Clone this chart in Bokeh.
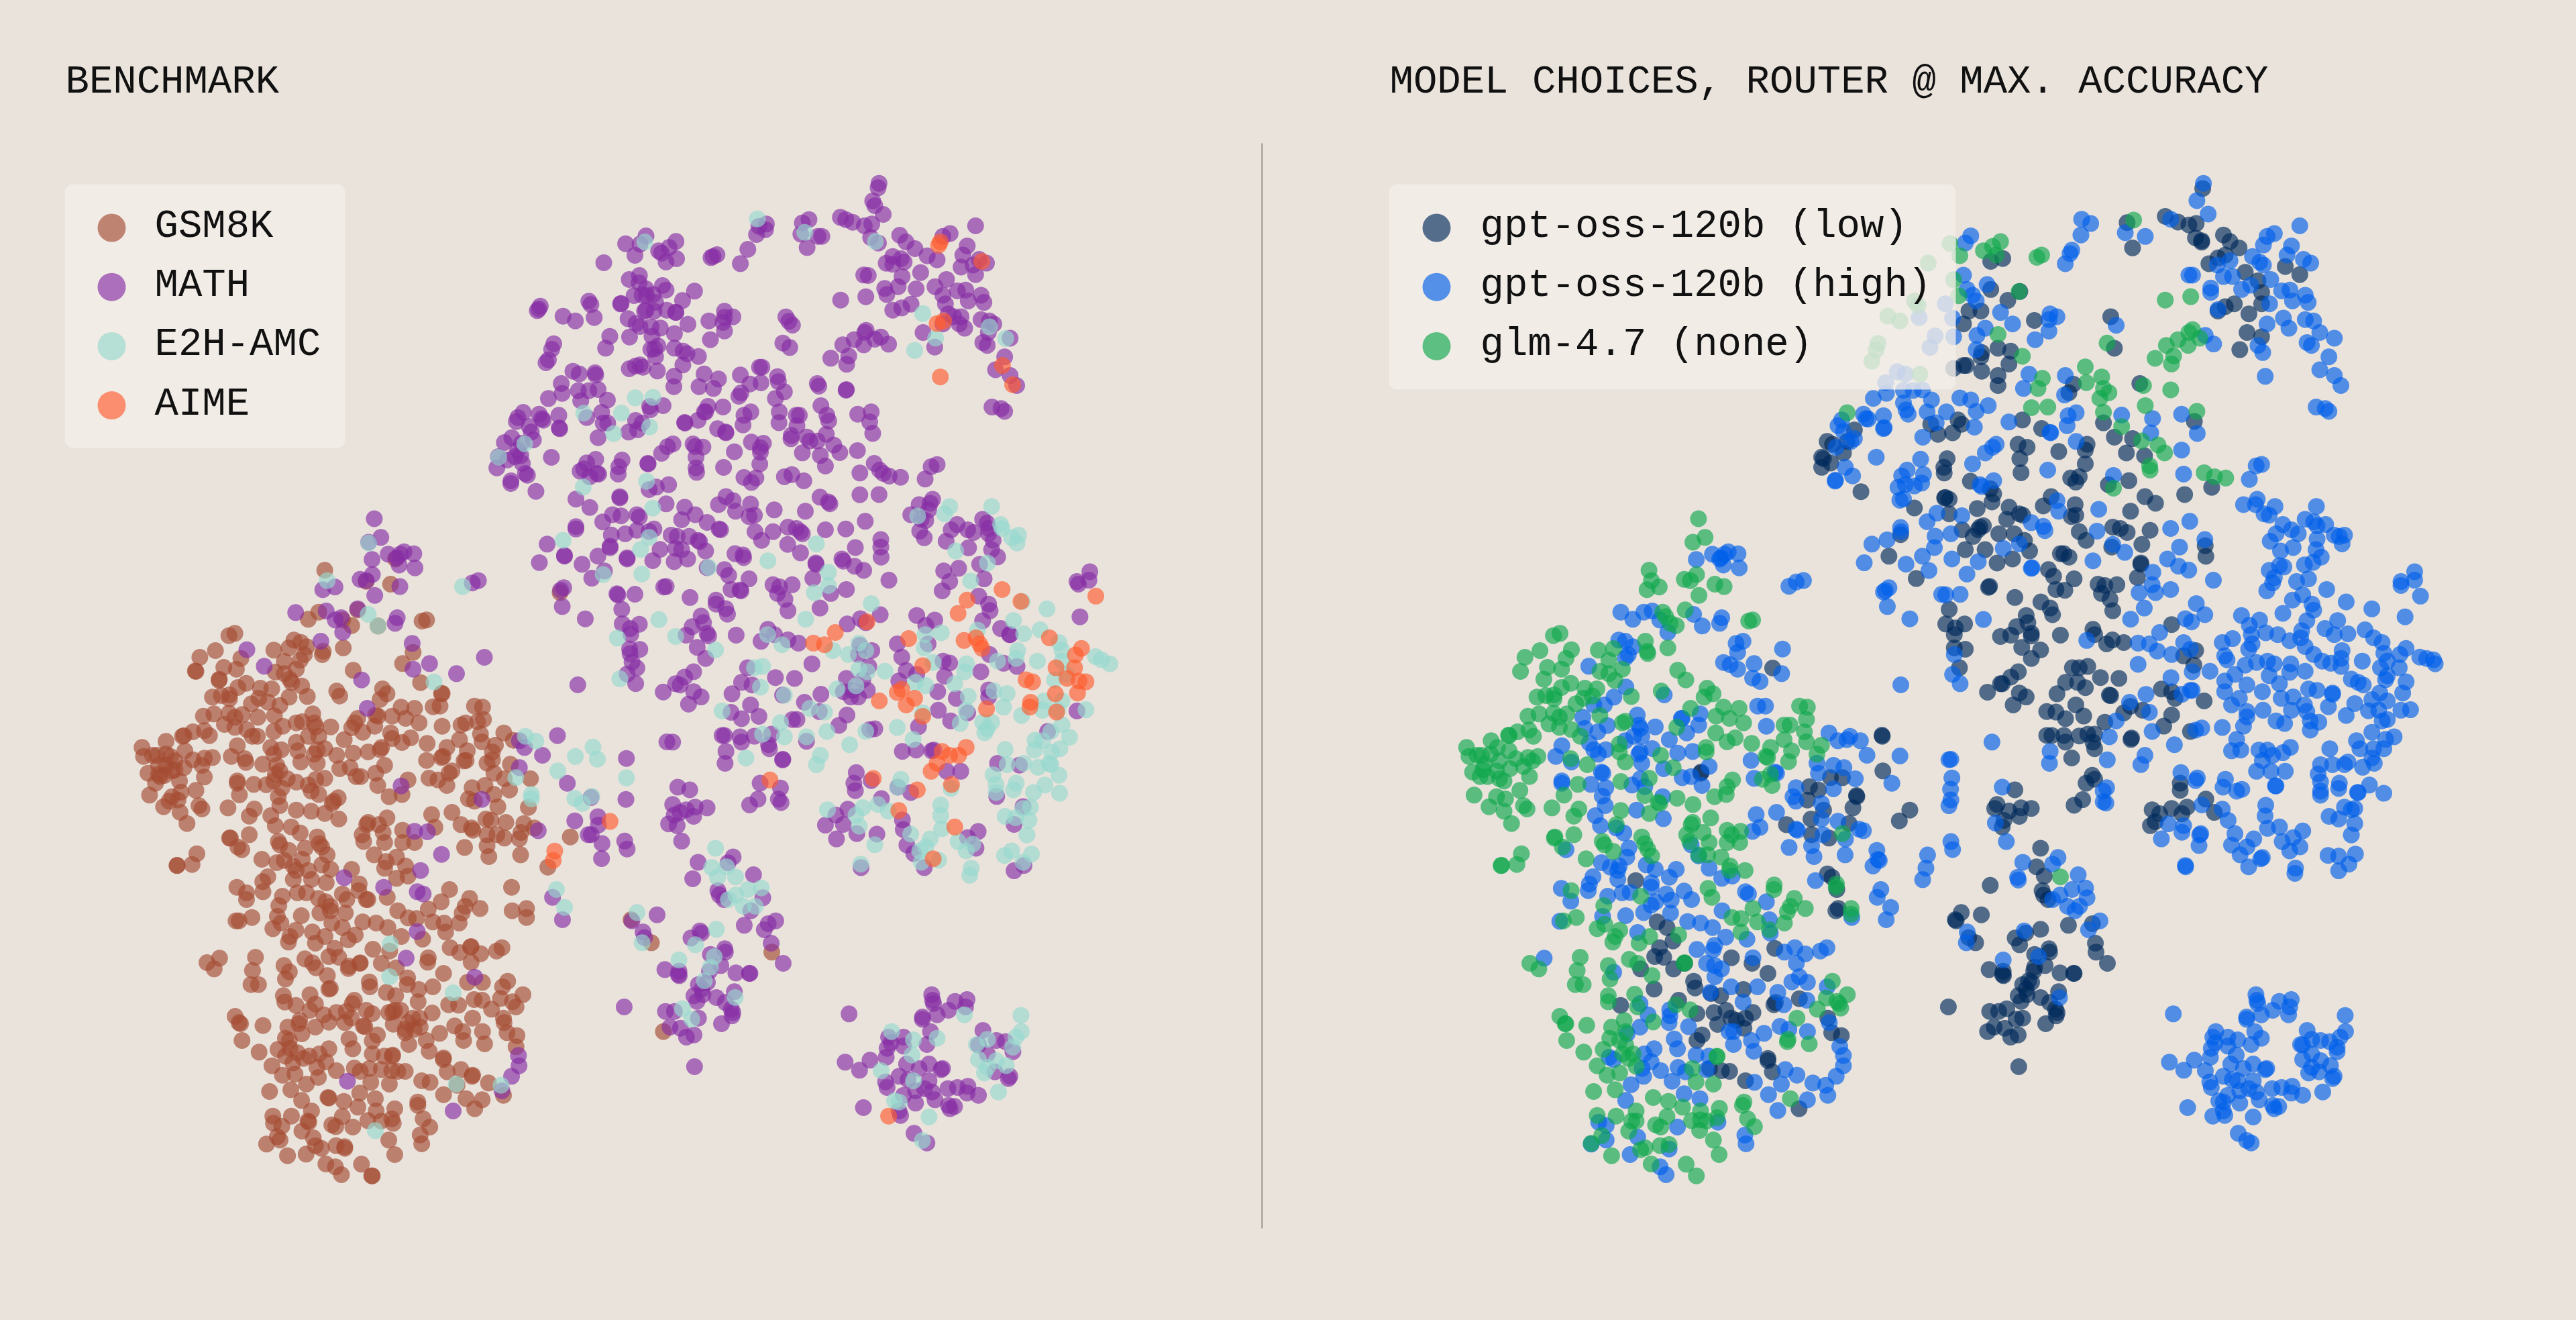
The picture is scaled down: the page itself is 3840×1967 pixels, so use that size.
from bokeh.plotting import figure
from bokeh.models import Range1d, Label, BoxAnnotation, ColumnDataSource
from bokeh.embed import file_html
from bokeh.resources import INLINE

BG = "#E9E3DC"
TITLE_LEFT = "BENCHMARK"
TITLE_RIGHT = "MODEL CHOICES, ROUTER @ MAX. ACCURACY"
BENCH_NAMES = ["GSM8K", "MATH", "E2H-AMC", "AIME"]
BENCH_COLORS = ["#A54B33", "#852CA5", "#97D8CE", "#FF5C2E"]
MODEL_NAMES = ["gpt-oss-120b (low)", "gpt-oss-120b (high)", "glm-4.7 (none)"]
MODEL_COLORS = ["#00295B", "#005FEA", "#10A84D"]
ALPHA = 0.65

# ---- readings of the left panel, grouped by the part of the picture they were read from
w2_math = [(1366,128),(1363,148),(1345,207),(1352,228),(1380,267),(1237,280),(1255,290),(1278,302),(1317,318),(1342,310),(1338,370),(1364,395),(1435,360),(1456,390),(1486,420),(1527,452),(1390,485),(1412,490),(1440,465),(1450,480),(1412,455),(1505,527),(1330,540),(1315,538),(1443,545),(1430,590),(1490,600),(1385,598),(1392,625),(1322,635),(1412,695),(1442,685),(1473,668),(1560,470),(1553,590),
(1132,290),(1110,305),(1105,355),(1126,415),(1162,365),(1175,365),(990,310),(965,320),(987,335),(957,357),(928,423),(903,487),(825,447),(805,460),(812,455),
(588,363),(568,400),(520,398),(551,450),(630,430),(640,440),(665,415),(688,388),(690,465),(655,480),(447,483),
(532,558),(566,540),(565,573),(588,600),(643,585),(655,605),(750,610),(548,630),(575,628),(590,630),(612,625),(505,665),(503,667),(710,652),(620,660),(588,695),(583,700),(615,700),(657,695),(687,705),(688,705),(528,733),(555,755),(568,768),(605,770),(636,775),(728,758),(683,800),(467,812),(533,815),(608,812),(628,855),(604,870),(617,868),(683,865),(620,903),(712,878),(725,890),(763,902),(711,940),
(235,677),(225,697),(230,690),(311,722),(352,743),(415,728),(397,655),(404,670),(280,845),(273,870),(262,917),(254,930),(453,865),
(532,957),(553,945),(568,940),(578,950),(626,967),(682,990),(681,1037),(782,980),(765,1037),(830,1003),(813,1045),(783,1150),(850,700),(850,727),(845,750),(798,743),(878,725),(850,788),(803,827),
(1055,725),(1065,745),(1077,762),(1045,842),(1068,862),
(344,968),(365,980),(418,975),(420,985),(305,1023),(308,1067),(262,1090),(362,1055),(397,1055),(428,1050),(459,1097),(370,1100),(390,1175),(440,1152),(460,1200),(445,1200),(553,1188),(575,1200),(530,1240),(560,1230),(428,1265),(603,1140),(645,1122),(600,1125),
(178,1152),(160,1175),(155,1193),(231,1160),(240,1180),(245,1187),(297,1165),(298,1222),(300,1225),(198,1215),(205,1240),(212,1275),(140,1265),(115,1287),(172,1290),(160,1320),(170,1345),(95,1350),(90,1400),(125,1365),(150,1350),(175,1380),(137,1458),(192,1433),(185,1425),(272,1353),
(420,1362),(390,1378),(368,1415),(380,1405),(430,1428),(425,1425),(400,1440),(508,1365),(497,1395),(495,1428),(595,1382),(594,1380),
(847,1398),(883,1328),(940,1285),(970,1310),(980,1290),(970,1330),(968,1383),(915,1443),(955,1445),(940,1465),
(903,985),(975,950),(967,950),(935,1025),(972,1020),(1027,992),(1030,1015),(1050,1060),(1020,1090),(905,1065),(898,1080),(1160,1023),(1165,1035),(1257,1050),(1256,1053),
(1033,1150),(1032,1198),(938,1150),(915,1165),(912,1208),(845,1128),(795,1125),(787,1150),(762,1187),(717,1197),(718,1200),
(1090,1165),(1100,1165),(1092,1212),(1072,1270),(1073,1255),(1172,1122),(1192,1165),(1198,1190),(1190,1250),(1125,1262),(1160,1280),(1135,1280),(1215,1298),(1235,1332),(1110,1333),(1170,1345),(1187,1392),(1295,1160),(1340,1150),(1335,1195),(1345,1246),(1294,1323),
(827,1225),(855,1243),(854,1240),(678,1293),(660,1305),(640,1335),(745,1293),(752,1305),(778,1307),(755,1352),(755,1400),(757,1420),
(1350,1380),(1368,1410),(1380,1425),(1400,1437),(1438,1442),(1302,1423),(1520,1450),(1540,1395),(1560,1385),(1075,1430),(1050,1440),(1115,1458),
(1205,910),(1245,850),(1265,900),(1258,937),(1283,827),(1315,850),(1323,785),(1318,795),(1352,825),(1372,815),(1398,847),(1238,650),(1513,795),(1552,860)]
w2_teal = [(960,287),(1118,347),(1354,388),(584,390),(552,1087),(611,1085),(506,1155),(380,1155),(600,1217),(480,1247),(183,1293),(96,1352),(590,1460),(1512,710),(1485,875),(1555,820)]
w2_orange = [(1565,405),(1560,755),(1568,990)]

tr_math = [(1435,248),(1365,275),(1345,285),(1412,318),(1400,350),(1445,365),(1465,378),(1428,385),(1395,392),(1435,418),(1355,435),(1345,490),(1385,475),(1408,472),(1415,510),(1450,490),(1458,515),(1395,565),(1375,565),(1360,555),(1345,590),(1390,590),(1405,605),(1450,575),(1473,580),(1485,590),(1470,620),(1455,655),(1467,665),(1530,640),(1515,705),(1490,750),(1530,770),(1548,805),(1480,880),(1505,885),(1515,895),(1352,520)]
tr_teal = [(1518,641),(1473,600)]
tr_orange = [(1338,304),(1452,372),(1347,580),(1338,775),(1537,802),(1509,735)]

w3_math = [(45,140),(80,168),(35,187),(120,197),(158,130),(183,100),(207,115),(215,155),(265,128),(278,170),(260,175),(344,150),(448,155),(160,222),(165,225),(280,232),(340,232),(302,265),(390,215),(418,220),(432,232),(438,240),(389,280),(432,312),(515,225),(583,222),(648,193),(497,102),(525,120),(530,127),(630,93),(694,92),(615,292),(700,262),(700,290),(701,328),(570,335),(575,343),(612,362),(643,378),(483,350),(484,355),(473,408),(585,450),(533,465),(497,520),(727,415),
(0,245),(20,250),(60,250),(15,295),(35,300),(90,265),(95,270),(115,305),(55,335),(10,345),(213,315),(240,320),(242,330),(120,368),(178,375),(192,397),(260,410),(200,450),(230,452),(233,455),(340,432),(362,440),(404,432),(355,465),(380,487),(390,530),(63,480),(150,490),(150,505),(182,522),(188,543),(100,550),(108,575),(70,590),(50,622),(120,615),(125,625),(87,668),(115,710),(45,780),(75,760),(15,805),(30,810),(75,835),(100,855),(58,882),(217,622),(300,645),(323,600),(345,620),(390,640),(425,652),(470,730),
(255,745),(235,800),(270,810),(348,782),(412,785),(203,843),(372,848),(265,885),(200,913),(235,937),(293,928),(445,875),(500,845),(495,910),(587,923),(560,962),(405,940),(420,940),
(178,1000),(170,1000),(230,1005),(235,1025),(278,1003),(335,995),(325,1035),(328,1050),(183,1060),(180,1105),(373,1090),(372,1092),(452,1022),(5,1025),
(588,580),(632,560),(698,545),(650,575),(680,975),(663,978),(585,785),(605,830),(640,790),(655,830),(600,855),(625,855),(575,835),(630,660),(670,680),(625,695),(660,740),
(755,655),(770,705),(785,755),(760,795),(820,770),(826,967),(772,1060),(818,1055),(877,1055),(820,548),(880,565),(850,585),(858,655),
(908,720),(930,727),(913,777),(890,835),(892,905),(952,860),(933,945),(990,915),(1034,760),(1063,695),(1110,728),(1155,740),(1130,620),(1100,597),(1040,568),(1060,505),(1065,530),(1027,475),(1045,410),
(828,130),(865,125),(873,110),(860,150),(800,168),(835,185),(830,230),(845,255),(850,190),(935,225),(955,205),(990,225),(1010,235),(1040,185),(1060,220),(1055,200),(1060,240),(1075,265),(918,268),(993,293),(1070,300),(1090,327),(910,380),(960,370),(930,420),(905,455),(1030,355),
(1355,420),(1360,430),(1398,383),(1395,415),(1365,553),(1355,908),(1132,620),(1060,828),(1060,855),(1257,985),(1087,1230),(1090,1105),(1163,1112),(1145,1335),(1175,1268),
(618,1140),(610,1180),(615,1208),(668,1170),(702,1238),(757,1195),(800,1215),(920,1135),(967,1135),(870,1058),
(590,1278),(550,1300),(515,1338),(575,1335),(620,1370),(552,1390),(687,1372),(772,1318),(775,1355),(787,1413),(810,1445),(845,1498),(1025,1362),(990,1385),(1018,1425),(1145,1510),(1178,1490),(634,1498),
(297,1180),(365,1198),(358,1240),(367,1253),(290,1240),(262,1262),(22,1195),(62,1205),(120,1273),(80,1270),(50,1280),(30,1290),(10,1300),(75,1305),(20,1340),(35,1398),(5,1260),(90,1478),(207,1458),(190,1480),(275,1525),(72,1540)]
w3_teal = [(930,137),(1070,137),(913,165),(823,173),(1100,205),(1105,220),(1160,245),(1137,255),(1155,275),(950,305),(1056,350),(1000,418),(525,385),(478,462),(525,435),(485,278),(323,342),(125,367),(449,562),(668,503),(1255,523),(1172,495),(1143,567),(1177,617),(1232,602),(1023,603),(902,613),(848,620),(845,670),(540,680),(592,695),(627,652),(650,680),(627,750),(655,760),(714,758),(875,725),(986,730),(980,760),(1157,680),(1152,710),(1223,720),(1295,650),(1305,680),(1305,720),(1090,720),
(15,627),(148,678),(322,620),(370,658),(278,745),(305,740),(298,818),(378,848),(170,908),(463,898),(512,912),(554,825),(617,813),(850,812),(815,800),(947,805),(992,852),(1122,842),(1078,832),(985,905),(1110,893),(1170,925),(1320,770),(1280,790),(1417,703),(1437,715),(1465,730),(1245,870),(1305,870),(1290,905),(1240,905),(1385,903),(1070,950),(1040,950),(1055,975),(1047,990),(965,955),(840,915),
(365,952),(305,995),(378,1005),(452,1005),(250,1085),(520,985),(650,985),(755,970),(596,1035),(808,1015),(498,1075),(485,1110),
(1305,960),(1330,1007),(1268,985),(1240,1020),(1215,1018),(1115,1053),(1213,1055),(1270,1063),(1298,1050),(1268,1110),(1262,1105),(1225,1120),(1177,1105),(1122,1110),(1075,1148),(1085,1185),(1295,1150),(1248,1187),(1210,1215),(1297,1218),(1152,1180),(1143,1205),(1085,1215),(1200,1270),(1115,1305),(1195,1320),(1188,1375),(1150,1310),(1175,1275),
(767,1165),(757,1195),(934,1200),(522,1280),(640,1272),(690,1260),(617,1300),(628,1342),(725,1285),(800,1372),(680,1412),(900,1262),(900,1302),(903,1352),(865,1390),(958,1400),(985,1435),(1007,1410),(850,1420),(830,1435),(893,1470),(835,1478),(633,1485),(1002,1500),(997,1527),(1113,1453),(1137,1435),(1203,1447),(1175,1478),(148,1425),(135,1498),(185,1495),(215,1533),(155,1535)]
w3_orange = [(1105,450),(1168,495),(1418,475),(988,490),(958,540),(654,572),(548,612),(475,652),(512,658),(793,635),(978,642),(1018,632),(1030,655),(1038,672),(1263,632),(1370,672),(1350,697),(1285,745),(1347,745),(840,737),(1185,790),(1207,798),(1362,795),(1385,798),(1322,785),(1357,840),(1283,843),(770,826),(755,838),(813,860),(785,885),(695,870),(1200,875),(1198,893),(1053,900),(1287,912),(840,928),(905,1060),(985,1045),(960,1075),(930,1075),(888,1105),(868,1135),(936,1185),(330,1168),(675,1162),(822,1205),(760,1283),(947,1345),(875,1465)]

w4_gsm = [(380,130),(360,140),(315,207),(263,237),(250,300),(248,298),(343,282),(385,290),(400,242),(328,335),(327,340),(390,372),(418,353),(305,415),(335,408),(362,405),(362,423),(465,375),(503,378),(435,445),(460,420),(490,437),(530,452),(512,498),(275,500),(310,490),(360,487),(380,505),(345,537),(457,505),(405,493),(380,550),(420,560),(455,590),(438,590),(510,205),(577,160),(600,170),(620,190),(560,195),(612,225),(545,255),(598,250),(585,290),(515,303),(545,310),(563,335),(570,350),(603,365),(561,415),(622,412),(675,210),(672,225),(742,195),(775,295),(720,388),(730,410),(873,378),(888,400),(865,425),(850,495),
(585,530),(605,525),(640,490),(645,530),(650,548),(625,590),(660,590),(700,548),(540,545),(510,568),(240,570),(210,587),(205,590),(278,565),(295,587),(150,613),(70,640),(75,680),(120,675),(105,675),(150,670),(165,680),(213,655),(240,695),(278,688),(305,685),(180,700),(150,720),(125,720),(170,745),(90,755),(125,760),(130,770),(115,800),(145,765),(180,740),(210,730),(270,720),(278,772),(195,790),(250,832),(95,853),(170,860),(200,840),(142,905),(160,880),(190,875),(197,930),(220,980),(260,900),(270,915),
(388,632),(413,690),(368,680),(417,707),(473,715),(500,640),(535,650),(510,670),(520,720),(585,617),(590,655),(600,705),(645,670),(655,710),(680,645),(720,675),(655,650),(530,745),(515,760),(510,790),(555,780),(585,795),(485,807),(443,805),(388,790),(388,800),(395,852),(537,822),(525,860),(530,900),(500,945),(625,808),(650,783),(680,778),(660,850),(635,835),(710,880),(725,865),(705,890),(585,920),(635,925),(680,935),(727,960),(445,915),(428,947),(357,910),(515,990),(568,995),(598,1022),(428,1030),(365,1045),(362,1045),(403,1097),(390,1085),(525,1060),(530,1075),(560,1100),(615,1090),(655,1040),(662,1070),(670,1085),(688,1120),(470,1140),(520,1155),(545,1145),(575,1170),(585,1190),(605,1140),(670,1165),(625,1190),(700,1185),(636,1230),(575,1230),(490,1218),(473,1240),(685,1245),(770,1185),(253,1115),(237,1163),(187,1167),(187,1168),
(775,665),(825,660),(870,640),(865,650),(900,575),(905,600),(938,618),(967,597),(745,605),(780,530),(790,510),(770,552),(807,572),(847,545),(858,500),(905,500),(935,460),(950,510),(980,465),(995,530),(1072,545),(1042,458),(1065,455),(1072,398),(1022,622),(1088,640),(1020,698),(1075,680),(1070,685),(880,720),(850,755),(730,735),(765,730),(785,770),(800,770),(857,810),(895,860),(938,850),(958,785),(1028,777),(1058,785),(1088,810),(1095,755),(1105,745),(1130,605),(1135,540),(1150,530),(1180,455),(1207,460),(1210,515),(1190,525),(1200,580),(1205,615),(1278,575),(1310,608),(1250,630),(1156,655),(1145,700),(1152,698),(1240,660),(1222,710),(1240,695),(1245,755),(1280,780),(1300,715),(1367,780),(1297,830),(1215,810),(1172,820),(1160,870),(1180,880),(1245,850),(1258,905),(1235,965),(1218,960),(1285,975),(1345,980),(1360,908),(1380,1000),(1037,940),(1048,997),(980,1065),(1105,930),(1135,985),(1170,1000),(1175,1010),(1222,1030),(1255,1030),(1280,1045),(1330,1048),(1335,1020),(1147,1087),(1222,1080),(1228,1128),(1334,1120),
(888,955),(825,975),(820,985),(860,985),(875,1020),(805,1030),(810,1060),(880,1065),(940,1010),(940,1065),(845,1120),(885,1150),(920,1130),(950,1170),(880,1180),(920,1225),(958,1215),(795,1250),
(1020,70),(1005,75),(625,67),(660,35),(740,70),(770,95),(790,25),(858,97),(1425,1175),(1500,1040),(975,215),(940,265),(1000,350),(1070,400)]
w4_math = [(420,203),(478,277),(667,165),(803,338),(822,465),(935,812),(972,175),(975,290),(1030,265),(1120,310),(1213,237),(1205,872),(1330,730),(1330,610),(1347,640),(1407,675),(1457,587),(980,1015),(1023,1017),(1070,1118),(1000,1190),(1393,1012),(1525,360),(745,1222),(1515,968),(1490,800),(1560,1030),(583,37),(685,30),(715,70),(735,60),(740,125),(790,20),(915,85),(922,60),(1473,10),(1550,65)]
w4_teal = [(1045,347),(1318,775),(1370,850),(1370,870),(1350,590),(1385,612),(1517,680),(1458,745),(1540,890),(1515,868),(825,45),(858,97)]
w4_orange = [(1448,1103),(1443,1145)]

w12_math = [(323,147),(350,225),(300,245),(380,295),(445,285),(430,295),(415,310),(485,293),(425,340),(490,352),(314,317),(265,400),(290,405),(315,380),(325,467),(428,430),(112,443),(162,432),(750,405),(725,415),
(986,33),(883,0),(1150,65),(1207,100),(1150,190),(1150,180),(1032,253),(1000,330),(1103,303),(1103,300),(1175,337),(1240,303),(1215,395),(1267,365),(1100,435),(1087,445),(1095,512),(1195,540),(1190,570),(1185,575),
(1260,160),(1300,130),(1335,135),(1330,60),(1330,55),(1400,130),(1410,140),(1295,215),(1352,210),(1400,195),(1290,268),(1290,262),(1360,315),(1360,310),(1465,322),(1495,275),(1470,190),(1450,200),(1520,85),(1450,25),(1480,15),(1530,5),(1520,430),(1510,432),(1318,460),(1322,465),(1392,462),(1338,525),(1410,587),(1340,585),(1373,605),(1375,630),(1412,692),(1370,690),(1372,710),(1380,745),(1400,770),(1360,795),(1395,835),(1508,870),(1160,835),(1165,835),
(1357,1147),(1523,1078),(1120,1260),(1183,1260),(1212,1310),(1355,1318),(1145,1408),(1240,1390),(1242,1425),(1213,1465),(1257,1502),(1350,1492),(1360,1525),(1255,1565),(1530,1420)]
w12_teal = [(1180,15),(1097,237),(1450,225),(1465,103),(1415,275),(1420,378),(1262,380),(1320,645),(1490,568),(1330,815),(130,405),(300,248),(685,430),(1357,1228),(1220,1100),(1238,1150),(1148,1137),(1075,1198),(1150,1310),(1210,1280),(1215,1305),(1175,1308),(1178,1360)]
w12_orange = [(1290,1410),(1063,1533)]
w12_gsm = [(120,362),(390,420),(290,408),(410,315),(1085,455),(1145,840),(1125,1472)]

w5_gsm = [(118,5),(150,60),(205,25),(150,30),(270,45),(258,87),(320,30),(350,30),(390,55),(415,70),(430,90),(470,35),(485,60),(525,20),(555,60),(550,60),(620,50),(333,132),(395,120),(430,110),(480,120),(253,135),(265,165),(238,190),(168,140),(125,155),(115,155),(435,165),(470,185),(538,160),(583,165),(622,185),(370,205),(412,225),(315,197),(295,225),(290,250),(380,255),(513,218),(490,240),(445,278),(458,318),(425,315),(345,325),(370,343),(382,365),(275,355),(293,383),(280,415),(420,400),(430,457),(425,460),(492,358),(490,368),(528,345),(530,343),(572,282),(600,345),(628,290),(667,225),(655,110),(690,142),(718,145),(757,103),(800,70),(828,15),(895,55),(880,90),(870,120),(930,100),(772,160),(810,165),(815,205),(860,165),(738,237),(830,275),(862,297),(898,272),(900,270),(932,302),(900,340),(985,290),(1003,275),(1037,110),(1085,100),(1085,140),(1035,5),
(757,320),(755,340),(808,390),(688,410),(687,440),(725,462),(772,450),(650,365),(617,475),(560,428),(562,450),(648,490),(888,430),(938,430),(825,530),(858,532),(910,507),(937,510),(968,550),(998,502),(1005,450),(1022,425),(1073,485),(1038,517),(1050,540),(723,517),(770,567),(510,510),(503,525),(550,555),(570,570),(645,555),(638,562),(665,555),(625,565),(640,617),(483,560),(478,610),(500,590),(450,565),(408,575),(425,608),(362,485),(380,527),(362,555),(273,490),(278,518),(315,533),(545,628),(540,625),(587,665),(570,692),(492,683),(505,727),(380,630),(288,630),(328,600),(325,615),(335,660),(280,680),(293,690),(425,727),(393,750),(415,785),(360,760),(320,745),(255,730),(280,760),(295,725),(340,770),(235,803),(305,790),(385,810),(270,845),(312,840),(390,855),(350,885),(205,623),(112,582),(130,615),(125,610),(135,690),(192,742),(227,918),(298,910),(334,958),
(450,825),(510,813),(530,828),(560,815),(600,820),(635,825),(655,828),(680,828),(565,877),(627,885),(570,750),(610,760),(637,760),(638,755),(680,640),(690,610),(705,590),(728,590),(730,630),(680,655),(710,640),(692,708),(750,690),(760,738),(795,658),(845,625),(872,650),(875,690),(938,650),(945,705),(905,590),(1008,590),(1010,610),(1020,655),(1053,668),(1050,718),(808,768),(807,775),(820,830),(866,820),(905,845),(903,850),(958,880),(735,870),(763,877),(808,932),(853,890),(883,950),(912,995),(937,955),(1008,935),
(528,925),(580,950),(475,962),(422,945),(425,947),(522,988),(583,1005),(645,995),(635,1040),(367,1005),(470,1030),(300,1028),(238,1028),(240,1060),(268,1073),(355,1050),(358,1055),(335,1095),(435,1067),(448,1075),(505,1077),(555,1048),(600,1050),(640,1060),(373,1125),(253,1120),(262,1135),(217,1153),(380,1160),(400,1172),(449,1160),(478,1172),(478,1165),(287,1205),(349,1198),(415,1242),(447,1255),(467,1290),(534,1243),(568,1295),(570,1295),(625,1135),(645,1200),(722,965),(722,980),(740,1040),(762,1077),(730,1112),(735,1152),(18,342),(60,322),(42,370),(180,318),(170,377),(165,440),(190,440)]
w5_teal = [(630,258),(628,405),(840,477),(850,885),(1000,890),(580,1093),(1185,15),(1212,95)]
w5_math = [(608,5),(720,25),(740,35),(720,203),(683,322),(912,407),(487,872),(840,1005),(1058,757),(1060,803),(1035,850),(1003,915),(1172,50),(1205,150)]

w6_mid_math = [(177,338),(93,365),(130,415),(135,440),(320,410),(290,442),(325,420),(468,385),(573,365),(548,378),(535,405),(558,465),(598,555),(530,262),(490,320),(403,490),(355,515),(405,505),(390,565),(352,590),(440,598),(487,600),(485,600),(203,583),(250,590),(248,605),(251,610),(345,640),(315,650),(327,670),(300,700),(310,725),(330,695),(375,708),(405,730),(435,682),(425,760),(430,775),(427,790),(392,825),(205,770),(235,770),(315,800),(255,845),(220,840),(275,885),(300,875),(67,750),(302,1017),(380,230),(385,250),(400,270)]
w6_mid_teal = [(110,328),(127,463),(375,403),(305,472),(250,540),(368,525),(355,572),(335,633),(438,708),(262,758),(293,805),(440,250),(415,270),(465,300),(505,300),(525,218),(480,225)]
w6_mid_gsm = [(90,360),(158,463),(560,505),(198,860)]
w6_low_math = [(818,781),(805,997),(888,988),(853,1033),(1094,695),(1097,720),(1100,735),(1172,725),(1212,717),(1150,765),(1207,750),(1112,785),(1063,805),(1063,795),(1090,860),(1265,855),(1000,885),(950,885),(958,910),(945,935),(1000,925),(1078,918),(942,975),(1010,1005),(1085,1005),(1052,1025),(1125,1030),(1130,1025),(985,1060),(1085,1080),(940,1085),(945,1110),(1015,1075),(1040,1125),(1070,1115),(1000,1145),(1040,1180),(1095,1130),(1105,1165),(1148,1115),(1180,1110),(1215,1105),(1212,1135),(1250,1145),(1150,1190),(1170,1195),(1155,1205),(1310,900),(1340,905),(1365,950),(1280,960),(1305,1040),(1355,1060),(1350,1070),(990,1235),(985,1215),(1035,1315),(1078,1358),(866,1200),(1250,920)]
w6_low_teal = [(960,860),(1033,897),(1112,890),(1028,965),(1203,785),(1392,788),(1393,860),(1375,885),(1365,930),(1243,918),(1280,895),(1250,985),(1280,1020),(1310,990),(1343,1012),(1270,1045),(925,1035),(1033,1080),(970,1170),(985,1175),(1317,1130),(1085,1242),(1063,1347)]
w6_low_orange = [(950,1238)]
w6_mid_blue_in_right = [(440,250),(415,270),(465,300),(505,300),(525,218),(480,225),(530,262),(490,320),(573,365),(535,405),(320,410),(130,415),(127,463),(250,540),(368,525),(438,708)]

# ---- readings of the right panel
r11_green = [(473,310),(500,352),(413,378),(483,436),(497,492),(375,510),(385,525),(302,563),(335,580),(275,658),(270,680),(258,720),(390,765),(565,335),(590,320),(612,303),(600,350),(712,358),(725,350),(663,477),(605,627),(672,703),(727,780),(715,815),(845,740),(848,795),(890,775),(895,815),(910,830),(885,850),(895,898),(1010,875),(697,882),(742,880),(978,228),(1065,507),(1135,495),(905,657),(1005,805),(1080,820),(945,948),(1000,998),(1045,1012),(1063,1040),(1152,895),(190,900),(1068,665),(1100,645),(1130,620),(1140,610),(1160,640),(1128,665),(1037,710),(1088,702),(1082,730),(1022,1085)]
r11_blue = [(530,283),(515,308),(510,420),(575,453),(520,470),(535,490),(545,510),(612,550),(460,520),(388,568),(480,570),(432,632),(418,672),(483,635),(570,605),(547,630),(645,590),(545,680),(748,555),(745,575),(745,615),(707,645),(767,565),(690,765),(790,770),(675,815),(788,838),(835,225),(860,240),(833,280),(808,333),(803,345),(790,380),(955,272),(1010,285),(1080,225),(1170,100),(1152,160),(1183,207),(1435,248),(930,595),(1130,420),(1140,420),(1190,480),(1190,465),(1210,540),(1175,630),(1198,660),(1305,355),(1325,375),(1335,385),(1365,275),(1345,285),(1335,315),(1412,318),(1400,350),(1445,365),(1465,378),(1225,425),(1250,425),(1243,370),(1208,385),(1275,470),(1300,455),(1355,435),(1385,475),(1408,472),(1415,510),(1450,490),(1458,515),(1345,590),(1390,570),(1405,605),(1450,575),(1473,580),(1490,620),(1455,655),(1467,665),(1530,640),(1515,705),(1490,750),(1530,770),(1548,805),(1480,880),(1505,885),(1515,895),(1320,665),(1333,690),(1340,773),(1352,520),(1315,1085),(1330,1080),
(328,757),(350,765),(296,795),(298,832),(262,850),(345,822),(372,822),(397,820),(422,855),(345,865),(352,890),(358,905),(410,897),(463,897),(435,935),(242,920),(248,922),(235,905),(290,910),(290,955),(292,952),(175,925),(165,945),(180,965),(398,985),(270,1055),(160,1020),(210,990),(200,1000),(185,1090),(205,1120),(158,1135),(157,1138),
(500,848),(530,855),(545,895),(578,875),(540,950),(635,932),(750,970),(748,968),(820,900),(795,945),(798,910),(945,908),(1030,920),(1025,970),(1110,905),(1153,972),(1110,1030),(820,1000),(600,1010),(590,1020),(570,1040),(535,1078),
(337,1300),(338,1315),(300,1343),(258,1358),(237,1423),(410,1280),(437,1250),(352,1428),(397,1400),(415,1450),(430,1370),(432,1330),(355,1100),(340,1120),(400,1115),(350,1150),(345,1200),(335,1205),(375,1155),(395,1145),(330,1160),(392,1062),(30,1505),(50,1490),(70,1485),(295,1520),(290,1525),(305,1510),(450,1533)]
r11_navy = [(1168,118),(1065,215),(1100,235),(1130,245),(1150,240),(1148,290),(1165,305),(1165,300),(1225,280),(1243,303),(1268,325),(975,325),(960,237),(585,372),(618,362),(632,508),(665,477),(585,470),(525,545),(510,590),(558,545),(705,578),(560,690),(558,705),(605,675),(640,685),(635,730),(518,735),(510,735),(560,755),(605,770),(605,805),(483,745),(915,565),(925,675),(995,798),(812,800),(800,830),(1185,380),(1210,360),(1230,350),(1320,440),(1330,480),(1285,410),(1395,390),(1435,418),(1255,520),(1230,530),(1210,545),(1295,555),(1330,520),(1290,620),(1330,635),(1270,680),(1145,930),(895,935),(672,925),(725,955),(925,985),(975,990),(958,1040),(1008,1050),(845,1030),(850,1010),(660,1010),(685,1020),(665,1060),(772,1035),(845,1078),(505,940),(495,925),(480,970),(440,975),(420,940),(135,1000),(150,1010),(180,1040),(120,1055),(125,1060),(145,1075),(120,1090),(190,1000),(210,960),(375,1232),(465,1060),(457,1110),(456,1090),(305,1400),(228,1175),(380,1478),(458,1197),(460,1195),(337,1325)]

# points of the lower-left lobe's top, as read in the left panel, coloured as in the right panel
rw12_green = [(323,147),(350,225),(300,245),(120,362),(130,405),(112,443),(162,432),(265,400),(290,405),(315,380),(325,467),(390,420),(428,430)]
rw12_blue = [(380,295),(445,285),(430,295),(415,310),(485,293),(425,340),(490,352),(314,317),(410,315)]

r8_navy = [(72,42),(130,70),(220,10),(365,30),(380,45),(390,25),(535,40),(475,55),(10,110),(92,145),(135,120),(140,90),(308,100),(285,135),(378,130),(380,170),(367,175),(613,125),(582,100),(698,92),(760,325),(758,285),(777,65),(540,155),(185,140),(178,185),(215,165),(225,170),(10,165),(48,225),(95,225),(100,215),(110,210),(80,250),(155,240),(200,240),(230,265),(245,305),(390,232),(410,265),(488,215),(510,220),(530,235),(597,227),(573,280),(570,350),(570,355),(560,405),(485,290),(57,300),(115,300),(150,350),(195,335),(335,315),(345,315),(360,328),(300,375),(315,400),(375,410),(322,450),(348,453),(445,430),(465,435),(500,432),(455,465),(480,487),(488,530),(125,442),(128,438),(202,480),(278,497),(305,520),(312,545),(235,548),(207,590),(240,575),(190,622),(160,627),(250,615),(250,625),(222,668),(277,678),(250,710),(335,622),(55,580),(28,595),(25,620),(0,580),(10,525),(57,675),(25,670),(40,745),(430,600),(435,620),(470,655),(487,640),(520,650),(660,582),(695,700),(730,680),(725,735),(415,740),(390,745),(370,745),(452,782),(506,785),(350,800),(385,800),(408,820),(325,843),(380,885),(295,910),(322,912),(403,927),(350,937),(212,760),(190,780),(160,805),(165,805),(122,837),(215,840),(235,855),(197,885),(478,848),(482,850),(630,825),(660,835),(670,860),(755,870),(660,923),(637,965),(715,985),(540,890),(575,905),(520,915),(465,950),(295,1000),(310,1000),(345,1000),(350,1025),(390,1002),(415,995),(435,995),(430,1025),(435,1050),(368,1085),(543,1010),(541,1015),(428,1150),(435,1165),(410,1180),(400,1242),(375,1263),(202,1205),(150,1260),(143,1275),(185,1285),(220,1273),(250,1275),(170,1320),(215,1305),(165,1345),(685,1180),(685,1207),(760,1240),(603,1280),(660,1275),(705,1270),(690,1295),(625,1295),(598,1340),(612,1325),(785,1290),(277,1425),(265,1495),(288,1530),(130,1565)]
r8_blue = [(140,40),(105,62),(100,55),(47,172),(325,115),(330,155),(447,148),(490,20),(298,0),(695,15),(250,198),(285,212),(290,228),(442,230),(15,240),(215,278),(168,295),(488,280),(523,310),(430,342),(18,335),(95,345),(62,392),(250,370),(252,368),(540,562),(580,520),(605,385),(603,432),(565,462),(613,462),(657,450),(732,503),(757,545),(700,560),(718,572),(625,612),(562,652),(595,655),(618,682),(660,695),(695,650),(715,675),(720,760),(772,758),(562,732),(658,782),(715,830),(720,830),(690,845),(585,845),(537,875),(595,913),(498,945),(603,985),(748,972),(730,980),(808,970),(478,1005),(668,1035),(582,1075),(570,1110),(472,1092),(305,1060),(303,1105),(412,642),(110,563),(42,468),(0,470),(20,770),(42,805),(25,695),(135,1025),(15,1090),(18,1160),(15,1243),
(657,220),(713,193),(683,290),(757,262),(648,335),(680,362),(710,377),(782,415),(887,35),(910,110),(870,130),(905,130),(962,137),(1083,137),(930,165),(945,170),(985,205),(1010,225),(1050,185),(1075,195),(1085,210),(1110,205),(965,240),(1030,240),(1085,260),(1135,245),(1150,250),(1165,245),(1158,278),(948,268),(1015,292),(1082,300),(1097,328),(978,305),(945,378),(988,365),(975,360),(1048,357),(1073,348),(1060,410),(960,405),(955,425),(938,455),(1025,420),(1113,450),(1170,497),(1013,490),(1043,470),(1070,505),(1075,528),(1245,523),(1342,553),(1370,383),(1330,420),(1330,435),(1370,415),(1387,475),(985,540),(1055,568),(1145,567),(1108,597),(1135,620),(1175,617),(1225,602),(1250,632),(1275,650),(1345,672),(1327,695),(864,548),(917,565),(887,585),(893,620),(935,613),(970,620),(1005,643),(1040,605),(1037,632),(1050,665),(1075,695),(1100,720),(1125,728),(1158,680),(1155,710),(1155,740),(1217,720),(1385,705),(1405,710),(1425,715),(1430,730),(1280,690),(1290,720),(1325,745),(1270,745),(1290,775),(1285,790),(1345,798),(1335,840),(1185,788),(1205,800),(1220,810),(1060,825),(1085,830),(1130,840),(1130,845),(808,650),(838,635),(885,675),(895,655),(822,715),(815,700),(875,735),(908,725),(940,720),(960,730),(945,775),(1008,730),(1005,762),(1050,758),(975,805),(925,835),(980,860),(1015,855),(815,795),(845,770),(815,835),(858,860),(835,885),(880,810),(1010,905),(1048,885),(1118,892),(1195,880),(1170,925),(1245,865),(1268,840),(1290,870),(1235,907),(1265,905),(1330,905),(1358,903),(880,910),(880,930),(927,905),(870,965),(850,1015),(965,945),(990,955),(1055,910),(1065,945),(1090,950),(1065,980),(1290,940),(1275,945),(1245,988),(1310,1005),(1285,1015),(1200,1020),(1210,1050),(1250,1050),(1280,1050),(1122,1050),(1095,1110),(1130,1110),(1165,1110),(1175,1100),(1245,1085),(1252,1105),(1218,1120),(1088,1145),(1095,1175),(1095,1210),(1095,1225),(1150,1180),(1148,1200),(1238,1187),(1203,1215),(1205,1215),(1280,1218),(1195,1332),(1185,1375),(1165,1270),(1195,1275),(1185,1280),(1148,1315),(1120,1305),(1117,1452),(1197,1447),(1148,1455),(1178,1485),(1148,1510),
(835,1058),(862,1055),(915,1055),(940,1055),(985,1065),(1007,1045),(955,1075),(925,1095),(908,1135),(950,1135),(992,1135),(965,1190),(963,1190),(817,1165),(810,1195),(865,1203),(850,1210),(935,1263),(933,1303),(940,1350),(975,1345),(983,1400),(1043,1360),(1015,1385),(1005,1435),(1035,1420),(900,1390),(880,1420),(860,1450),(925,1460),(885,1495),(920,1465),(835,1413),(845,1370),(825,1320),(808,1278),(748,1262),(690,1365),(695,1340),(630,1390),(650,1333),(745,1370),(742,1375),(740,1415),(700,1490),(701,1495),(687,1140),(735,1160),(730,1170),(470,1197),(460,1210),(460,1250),(468,1255),(165,1195),(145,1330),(177,1400),(15,1400),(20,1430),(225,1478),(328,1460),(312,1485),(387,1525),(210,1535),(212,1545),(1022,1500),(1020,1520)]
r8_green = [(490,68),(597,0),(755,10),(785,25),(818,30),(335,1533)]

r9_green = [(1035,70),(1022,75),(392,130),(370,140),(325,207),(275,237),(260,300),(430,203),(350,282),(397,290),(412,242),(338,335),(397,372),(428,353),(315,415),(345,408),(372,405),(372,423),(475,375),(515,378),(445,445),(470,420),(500,410),(520,205),(570,198),(555,250),(600,290),(525,300),(555,310),(575,340),(630,412),(677,165),(683,210),(685,220),(752,195),(785,295),(812,338),(730,388),(883,375),(903,400),(873,415),(828,465),(285,500),(322,490),(370,487),(390,505),(355,535),(415,490),(390,550),(430,560),(460,590),(525,497),(600,530),(610,523),(250,570),(222,587),(220,585),(288,562),(303,590),(162,610),(80,640),(88,680),(130,675),(115,675),(160,670),(183,640),(222,655),(245,690),(285,685),(318,680),(300,700),(270,725),(290,770),(190,700),(140,715),(135,740),(180,745),(100,750),(125,770),(150,770),(190,780),(205,790),(225,735),(258,832),(105,853),(155,905),(180,860),(210,870),(205,925),(230,980),(270,900),(282,915),(365,910),(455,915),(438,947),(405,853),(452,805),(483,717),(428,690),(595,792),(590,625),(590,660),(610,705),(728,675),(770,730),(690,778),(783,867),(675,855),(720,885),(725,890),(690,935),(595,922),(580,985),(836,895),(908,860),(968,785),(950,815),(947,850),(1100,810),(1068,782),(1095,760),
(782,550),(913,500),(938,460),(958,510),(990,465),(1005,530),(912,575),(950,615),(977,597),(880,640),(880,660),(1032,622),(1095,640),(1080,680),(1085,685),(1140,540),(1160,540),(1215,515),(1192,455),(1218,460),(1208,570),(1215,615),(1140,605),(1165,655),(1155,703),(1265,630),(1250,670),(1335,1025),(835,975),(895,955),(830,985),(870,1020),(815,1030),(825,1060),(890,1065),(950,1010),(950,1065),(992,1065),(965,1030),(995,1015),(930,1130),(960,1170),(958,1190),(1010,1190),(885,1265),(1107,1255),(885,1120),
(375,1040),(373,1045),(438,1030),(400,1085),(533,1060),(570,1105),(665,1040),(675,1070),(685,1095),(698,1125),(479,1138),(263,1115),(248,1163),(197,1167),(195,1168),(540,1075),(810,25),(745,55),(760,85),(780,95),(735,35),(1315,1250),(855,1120)]
r9_blue = [(595,35),(635,67),(672,35),(700,30),(725,70),(752,125),(838,45),(867,97),(925,85),(932,60),(588,160),(610,165),(635,190),(610,240),(620,225),(488,277),(938,260),(960,270),(985,290),(1003,165),(980,175),(985,215),(1040,265),(1035,330),(1060,345),(1135,200),(1132,310),(740,405),(612,370),(572,415),(540,450),(505,450),(468,505),(475,555),(518,570),(550,542),(650,495),(655,540),(660,555),(638,590),(665,590),(710,548),(757,605),(815,575),(855,540),(860,490),(797,510),(800,510),(785,665),(835,658),(890,725),(738,735),(830,770),(800,775),(866,810),(1052,455),(1078,455),(1081,545),(1030,698),(1040,778),(1110,750),(1115,755),(1530,360),(1485,10),(1560,65),
(398,632),(378,680),(430,705),(490,620),(505,650),(545,650),(520,670),(660,660),(655,670),(700,645),(610,610),(665,710),(530,750),(535,755),(495,805),(398,790),(398,800),(545,820),(533,857),(543,900),(632,808),(660,780),(675,815),(648,920),(735,860),(737,958),(510,945),(527,990),(580,1000),(605,1022),(1047,940),(1060,997),(1035,1015),(1115,930),(1180,1005),(1185,1010),(1157,1087),(1232,1080),(1240,1128),(1344,1120),(1345,1050),(1270,1030),(1390,1005),(1405,1012),(1265,960),(1320,970),(1290,575),(1320,610),(1360,590),(1350,605),(1395,610),(1417,675),(1527,678),(1250,710),(1305,720),(1340,730),(1378,780),(1305,825),(1255,755),(1180,820),(1170,860),(1180,880),(1265,890),(1500,800),(1450,1100),(1437,1170),(1453,1140),(1458,1145),(1245,1235),
(412,1097),(622,1090),(615,1130),(530,1155),(560,1175),(585,1190),(590,1170),(680,1165),(710,1185),(780,1185),(757,1220),(697,1245),(585,1230),(502,1218),(490,1250),(890,1180),(932,1225),(967,1215),(855,1125),(830,1075)]
r9_navy = [(1102,285),(862,755),(863,750),(1467,585),(1468,590),(1470,745),(1295,775),(1335,775),(1225,815),(1255,830),(1218,875),(1382,855),(1383,860),(1370,910),(1272,920),(1230,960),(1148,985),(1232,1030),(1290,1045),(1357,980),(1525,968),(645,1235),(1285,1205),(1300,1220),(1560,920)]

r10_green = [(138,20),(155,140),(112,155),(247,87),(250,170),(225,190),(300,197),(285,225),(277,250),(365,255),(400,225),(370,45),(595,10),(608,50),(497,218),(675,140),(705,145),(745,100),(760,160),(705,205),(800,195),(815,15),(883,55),(870,90),(860,115),(920,100),(850,165),(1023,5),(1073,100),(1073,125),
(332,327),(360,345),(262,355),(158,377),(168,318),(152,440),(178,440),(268,415),(408,400),(517,342),(515,345),(262,490),(350,483),(262,517),(360,540),(488,530),(535,553),(100,582),(118,615),(120,615),(190,622),(123,690),(180,742),(315,600),(273,630),(412,607),(320,650),(267,680),(300,690),(245,730),(320,710),(345,750),(310,750),(225,803),(330,770),(355,805),(258,845),(300,835),(285,910),(213,918),(625,760),(625,762),(543,815),(555,875),(613,885),(1010,425),(990,500),(1060,485),(1025,515),(1038,545),(1033,525),(960,550),(892,590),(862,685),(860,695),(933,705),(870,950),(412,945),(463,962),(510,988),(715,965),(710,980),(355,1005),(570,1005),(633,993),(625,1035),(458,1030),(288,1028),(225,1025),(340,1050),(355,1050),(330,1095),(420,1067),(437,1077),(540,1048),(570,1045),(590,1050),(727,1040),(750,1075),(567,1092),(240,1115),(205,1150),(613,1135),(632,1200),(273,1205),(370,1178),(385,1170),(435,1160),(465,1155),(405,1242),(522,1243),(556,1295),(0,345),(30,370)]
r10_blue = [(105,10),(195,20),(260,45),(137,67),(100,157),(243,135),(320,132),(308,30),(335,28),(405,5),(380,118),(405,85),(420,70),(455,35),(472,62),(515,22),(540,60),(470,120),(527,158),(570,165),(610,185),(642,110),(720,25),(730,35),(790,70),(654,228),(725,237),(803,210),(800,150),(360,207),(558,283),(617,265),(612,285),(850,295),(885,275),(920,303),(970,290),(992,275),(890,345),(745,320),(590,345),(617,355),(640,370),(618,405),(672,450),(760,450),(712,518),(875,428),(900,405),(927,430),(828,475),(848,530),(925,510),(993,450),(603,475),(48,322),(280,385),(368,525),(395,575),(368,630),(467,553),(468,580),(465,610),(530,628),(482,683),(493,727),(325,660),(415,727),(382,750),(405,785),(265,765),(280,775),(375,815),(380,850),(338,888),(320,958),(437,825),(475,872),(495,810),(520,830),(515,928),(568,950),(555,755),(598,760),(590,820),(665,650),(680,650),(680,708),(740,690),(748,738),(782,658),(835,627),(865,640),(927,650),(1000,610),(1035,717),(1047,757),(1047,803),(1023,850),(945,880),(988,890),(995,935),(840,885),(853,820),(892,845),(797,932),(927,955),(828,1003),(750,877),(230,1055),(255,1070),(360,1122),(255,1135),(205,1153),(335,1200),(493,1077),(628,1055),(718,1113),(722,1152),(435,1255),(455,1290),(465,1175),(1075,140),(1160,50),(1172,15),(1205,95),(1190,150)]
r10_navy = [(425,160),(458,185),(478,245),(433,275),(417,315),(447,318),(370,370),(480,370),(517,345),(415,460),(547,425),(552,455),(605,480),(637,490),(497,510),(303,533),(558,570),(615,565),(655,555),(672,590),(627,618),(720,590),(745,565),(690,600),(715,635),(575,665),(558,690),(673,320),(742,345),(795,390),(713,462),(815,530),(820,520),(900,503),(818,278),(995,590),(1008,655),(1040,668),(795,770),(795,780),(810,830),(720,870),(667,828),(640,825),(600,815),(899,995),(1022,110),(1030,100),(1025,15)]
gap_right_blue = [(1186,462),(1187,480),(1172,528),(1173,520),(1186,490),(1170,535)]


def place(win, pts, keep=None):
    x0, y0, sx, sy = win
    out = [(x0 + a / sx, y0 + b / sy) for a, b in pts]
    return [q for q in out if keep is None or keep(q)]


W2 = (700, 230, 2.24, 3.0)
W3 = (1000, 700, 2.24, 2.529)
W4 = (180, 900, 2.24, 3.0)
W5 = (300, 1320, 2.24, 3.0)
W6 = (900, 1250, 2.24, 3.0)
W12 = (440, 720, 2.751, 2.8)
TR = (676, 230, 1.845, 2.34)
R8 = (926, 700, 1.96, 2.529)
R9 = (176, 900, 2.24, 3.0)
R10 = (306, 1320, 2.24, 3.0)
R11 = (676, 230, 1.845, 2.34)
DISPLAY = (-1974, 0, 0.4083, 0.4083)

k2 = lambda q: q[1] < 720 and q[0] < 1400
k3 = lambda q: q[1] >= 720
k4 = lambda q: q[0] <= 880 and q[1] < 1320
k5 = lambda q: q[0] < 900
k6 = lambda q: q[1] >= 1320
k12 = lambda q: q[0] < 1000 and (q[1] < 900 or q[0] >= 880)
ktr = lambda q: q[0] >= 1400
k11 = lambda q: q[1] < 700 or q[0] < 926
k8 = lambda q: q[1] >= 700
k9 = lambda q: q[1] < 1320
k10 = lambda q: q[0] < 906
krw = lambda q: q[1] >= 1320 and q[0] >= 906

gsm = place(W4, w4_gsm, k4) + place(W5, w5_gsm, k5) + place(W6, w6_mid_gsm, k6) + place(W12, w12_gsm, k12)
math = (place(W2, w2_math, k2) + place(TR, tr_math, ktr) + place(W3, w3_math, k3) + place(W4, w4_math, k4)
        + place(W12, w12_math, k12) + place(W5, w5_math, k5) + place(W6, w6_mid_math, k6) + place(W6, w6_low_math, k6))
e2h = (place(W2, w2_teal, k2) + place(TR, tr_teal, ktr) + place(W3, w3_teal, k3) + place(W4, w4_teal, k4)
       + place(W12, w12_teal, k12) + place(W5, w5_teal, k5) + place(W6, w6_mid_teal, k6) + place(W6, w6_low_teal, k6))
aime = (place(W2, w2_orange, k2) + place(TR, tr_orange, ktr) + place(W3, w3_orange, k3) + place(W4, w4_orange, k4)
        + place(W12, w12_orange, k12) + place(W6, w6_low_orange, k6))

mid_all = w6_mid_math + w6_mid_teal + w6_mid_gsm
low_all = w6_low_math + w6_low_teal + w6_low_orange
navy = (place(R11, r11_navy, k11) + place(R8, r8_navy, k8) + place(R9, r9_navy, k9) + place(R10, r10_navy, k10)
        + place(W6, [q for q in mid_all if q not in w6_mid_blue_in_right], krw))
blue = (place(R11, r11_blue, k11) + place(R8, r8_blue, k8) + place(R9, r9_blue, k9) + place(R10, r10_blue, k10)
        + place(W6, [q for q in mid_all if q in w6_mid_blue_in_right], krw) + place(W6, low_all, krw)
        + place(DISPLAY, gap_right_blue) + place(W12, rw12_blue))
green = (place(R11, r11_green, k11) + place(R8, r8_green, k8) + place(R9, r9_green, k9) + place(R10, r10_green, k10)
         + place(W12, rw12_green))

PW, PH = 3824, 1951
p = figure(width=PW, height=PH, output_backend="svg", toolbar_location=None,
           x_range=Range1d(0, PW), y_range=Range1d(PH, 0), min_border=0,
           background_fill_color=BG, border_fill_color=BG, outline_line_color=None)
p.extra_x_ranges["right"] = Range1d(-1974, PW - 1974)
p.axis.visible = False
p.grid.visible = False


def draw(points, color, range_name="default"):
    src = ColumnDataSource(dict(x=[a for a, _ in points], y=[b for _, b in points]))
    return p.scatter("x", "y", source=src, size=25, marker="circle", fill_color=color,
                     fill_alpha=ALPHA, line_color=None, x_range_name=range_name)


for s, c in zip([gsm, math, e2h, aime], BENCH_COLORS):
    draw(s, c)
for s, c in zip([navy, blue, green], MODEL_COLORS):
    draw(s, c, "right")

p.segment(x0=[1881], y0=[213], x1=[1881], y1=[1830], line_color="#B3AFAA", line_width=3)

FONT = "Liberation Mono"
FS = "59px"
INK = "#111111"
BASE_SHIFT = 18  # the label's alphabetic anchor sits this far above the text's visual baseline here
for txt, x in [(TITLE_LEFT, 97), (TITLE_RIGHT, 2071)]:
    p.add_layout(Label(x=x, y=140 - BASE_SHIFT, text=txt, text_font=FONT, text_font_size=FS,
                       text_color=INK, text_baseline="alphabetic"))


def legend_block(names, colors, left, right, bottom, key_x, text_x):
    p.add_layout(BoxAnnotation(left=left, right=right, top=274, bottom=bottom, fill_color="#F3EEE8",
                               fill_alpha=0.8, line_color=None, border_radius=12, level="annotation"))
    ys = [339 + 88.2 * i for i in range(len(names))]
    for name, color, yk in zip(names, colors, ys):
        p.scatter([key_x], [yk], size=42, marker="circle", fill_color=color, fill_alpha=ALPHA,
                  line_color=None, level="overlay")
        p.add_layout(Label(x=text_x, y=yk + 16 - BASE_SHIFT, text=name, text_font=FONT, text_font_size=FS,
                           text_color=INK, text_baseline="alphabetic"))


legend_block(BENCH_NAMES, BENCH_COLORS, 96, 514, 667, 166, 230)
legend_block(MODEL_NAMES, MODEL_COLORS, 2070, 2915, 580, 2141, 2206)

html = file_html(p, INLINE)
html = html.replace("<head>", "<head><style>html,body{background:%s}</style>" % BG, 1)
open("out.html", "w").write(html)
